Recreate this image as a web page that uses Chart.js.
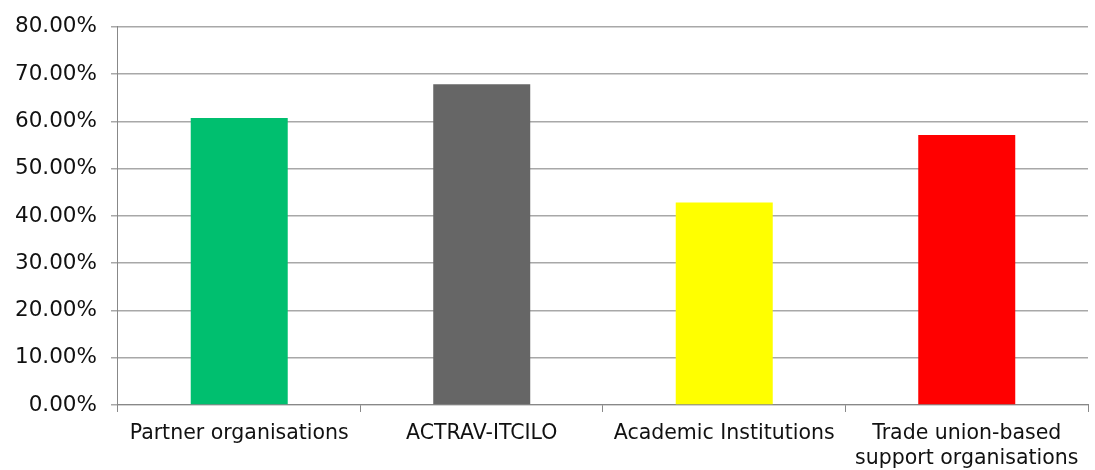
<!DOCTYPE html>
<html>
<head>
<meta charset="utf-8">
<script src="https://cdn.jsdelivr.net/npm/chart.js@4"></script>
<style>
  html, body { margin: 0; padding: 0; background: #fff; }
  #wrap { width: 1095px; height: 470px; }
</style>
</head>
<body>
<div id="wrap"><canvas id="shareChart"></canvas></div>
<script>
// Share of respondents per organisation type
var categories = [
    'Partner organisations',
    'ACTRAV-ITCILO',
    'Academic Institutions',
    ['Trade union-based', 'support organisations']
];
var shares = [60.71, 67.86, 42.86, 57.14];
var barColors = ['#00bf6f', '#666666', '#ffff00', '#ff0000'];
var yTicks = [0, 10, 20, 30, 40, 50, 60, 70, 80];

var ctx = document.getElementById('shareChart').getContext('2d');
new Chart(ctx, {
    type: 'bar',
    data: {
        labels: categories,
        datasets: [{
            data: shares,
            backgroundColor: barColors,
            borderWidth: 0,
            barPercentage: 0.4,
            categoryPercentage: 1
        }]
    },
    options: {
        responsive: true,
        maintainAspectRatio: false,
        animation: false,
        // negative bottom padding pulls the x axis down into the spare label space
        layout: { padding: { left: 1, right: 7, top: 9, bottom: -10 } },
        plugins: {
            legend: { display: false },
            tooltip: { enabled: false }
        },
        scales: {
            x: {
                offset: true,
                grid: {
                    offset: true,
                    drawOnChartArea: false,
                    drawTicks: true,
                    tickLength: 7,
                    color: '#888888'
                },
                border: { color: '#888888' },
                ticks: {
                    color: '#111',
                    font: { family: 'DejaVu Sans', size: 20.5, lineHeight: 1.22 },
                    maxRotation: 0,
                    autoSkip: false,
                    padding: 9
                }
            },
            y: {
                min: 0,
                max: 80,
                afterBuildTicks: function (axis) {
                    axis.ticks = yTicks.map(function (v) { return { value: v }; });
                },
                grid: {
                    color: '#a8a8a8',
                    lineWidth: 1.5,
                    tickLength: 7
                },
                border: { color: '#888888' },
                ticks: {
                    color: '#111',
                    font: { family: 'DejaVu Sans', size: 21.5 },
                    padding: 14,
                    callback: function (v) { return v.toFixed(2) + '%'; }
                }
            }
        }
    }
});
</script>
</body>
</html>
